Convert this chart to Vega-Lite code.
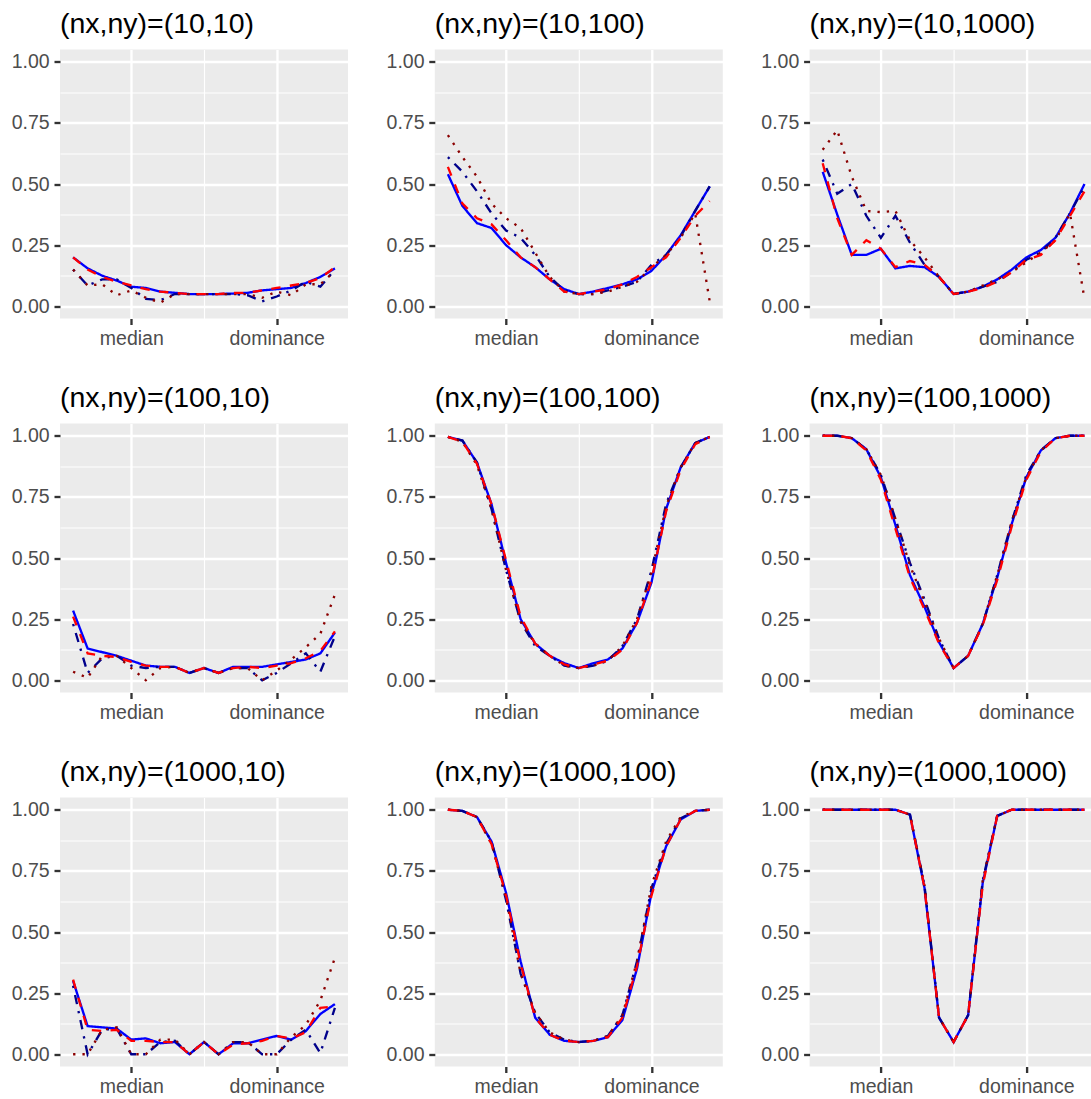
{
"$schema": "https://vega.github.io/schema/vega-lite/v6.json",
"padding": {"left": 11, "top": 9.5, "right": 0, "bottom": 0},
"datasets": {"d": [
{"p":"10,10","m":"a","x":-9,"y":0.2},{"p":"10,10","m":"a","x":-8,"y":0.155},{"p":"10,10","m":"a","x":-7,"y":0.125},{"p":"10,10","m":"a","x":-6,"y":0.105},{"p":"10,10","m":"a","x":-5,"y":0.08},{"p":"10,10","m":"a","x":-4,"y":0.075},{"p":"10,10","m":"a","x":-3,"y":0.06},{"p":"10,10","m":"a","x":-2,"y":0.055},{"p":"10,10","m":"a","x":-1,"y":0.05},{"p":"10,10","m":"a","x":0,"y":0.05},{"p":"10,10","m":"a","x":1,"y":0.05},{"p":"10,10","m":"a","x":2,"y":0.052},{"p":"10,10","m":"a","x":3,"y":0.055},{"p":"10,10","m":"a","x":4,"y":0.065},{"p":"10,10","m":"a","x":5,"y":0.07},{"p":"10,10","m":"a","x":6,"y":0.075},{"p":"10,10","m":"a","x":7,"y":0.095},{"p":"10,10","m":"a","x":8,"y":0.12},{"p":"10,10","m":"a","x":9,"y":0.155},
{"p":"10,10","m":"b","x":-9,"y":0.15},{"p":"10,10","m":"b","x":-8,"y":0.085},{"p":"10,10","m":"b","x":-7,"y":0.11},{"p":"10,10","m":"b","x":-6,"y":0.11},{"p":"10,10","m":"b","x":-5,"y":0.075},{"p":"10,10","m":"b","x":-4,"y":0.03},{"p":"10,10","m":"b","x":-3,"y":0.025},{"p":"10,10","m":"b","x":-2,"y":0.05},{"p":"10,10","m":"b","x":-1,"y":0.05},{"p":"10,10","m":"b","x":0,"y":0.05},{"p":"10,10","m":"b","x":1,"y":0.05},{"p":"10,10","m":"b","x":2,"y":0.05},{"p":"10,10","m":"b","x":3,"y":0.045},{"p":"10,10","m":"b","x":4,"y":0.02},{"p":"10,10","m":"b","x":5,"y":0.04},{"p":"10,10","m":"b","x":6,"y":0.065},{"p":"10,10","m":"b","x":7,"y":0.1},{"p":"10,10","m":"b","x":8,"y":0.08},{"p":"10,10","m":"b","x":9,"y":0.15},
{"p":"10,10","m":"c","x":-9,"y":0.15},{"p":"10,10","m":"c","x":-8,"y":0.085},{"p":"10,10","m":"c","x":-7,"y":0.09},{"p":"10,10","m":"c","x":-6,"y":0.045},{"p":"10,10","m":"c","x":-5,"y":0.065},{"p":"10,10","m":"c","x":-4,"y":0.035},{"p":"10,10","m":"c","x":-3,"y":0.015},{"p":"10,10","m":"c","x":-2,"y":0.05},{"p":"10,10","m":"c","x":-1,"y":0.05},{"p":"10,10","m":"c","x":0,"y":0.05},{"p":"10,10","m":"c","x":1,"y":0.05},{"p":"10,10","m":"c","x":2,"y":0.05},{"p":"10,10","m":"c","x":3,"y":0.05},{"p":"10,10","m":"c","x":4,"y":0.035},{"p":"10,10","m":"c","x":5,"y":0.06},{"p":"10,10","m":"c","x":6,"y":0.045},{"p":"10,10","m":"c","x":7,"y":0.09},{"p":"10,10","m":"c","x":8,"y":0.09},{"p":"10,10","m":"c","x":9,"y":0.145},
{"p":"10,10","m":"d","x":-9,"y":0.2},{"p":"10,10","m":"d","x":-8,"y":0.15},{"p":"10,10","m":"d","x":-7,"y":0.12},{"p":"10,10","m":"d","x":-6,"y":0.1},{"p":"10,10","m":"d","x":-5,"y":0.085},{"p":"10,10","m":"d","x":-4,"y":0.07},{"p":"10,10","m":"d","x":-3,"y":0.06},{"p":"10,10","m":"d","x":-2,"y":0.055},{"p":"10,10","m":"d","x":-1,"y":0.05},{"p":"10,10","m":"d","x":0,"y":0.05},{"p":"10,10","m":"d","x":1,"y":0.05},{"p":"10,10","m":"d","x":2,"y":0.055},{"p":"10,10","m":"d","x":3,"y":0.055},{"p":"10,10","m":"d","x":4,"y":0.065},{"p":"10,10","m":"d","x":5,"y":0.075},{"p":"10,10","m":"d","x":6,"y":0.085},{"p":"10,10","m":"d","x":7,"y":0.095},{"p":"10,10","m":"d","x":8,"y":0.115},{"p":"10,10","m":"d","x":9,"y":0.16},

{"p":"10,100","m":"a","x":-9,"y":0.54},{"p":"10,100","m":"a","x":-8,"y":0.41},{"p":"10,100","m":"a","x":-7,"y":0.34},{"p":"10,100","m":"a","x":-6,"y":0.32},{"p":"10,100","m":"a","x":-5,"y":0.25},{"p":"10,100","m":"a","x":-4,"y":0.2},{"p":"10,100","m":"a","x":-3,"y":0.16},{"p":"10,100","m":"a","x":-2,"y":0.11},{"p":"10,100","m":"a","x":-1,"y":0.07},{"p":"10,100","m":"a","x":0,"y":0.05},{"p":"10,100","m":"a","x":1,"y":0.06},{"p":"10,100","m":"a","x":2,"y":0.075},{"p":"10,100","m":"a","x":3,"y":0.09},{"p":"10,100","m":"a","x":4,"y":0.11},{"p":"10,100","m":"a","x":5,"y":0.145},{"p":"10,100","m":"a","x":6,"y":0.21},{"p":"10,100","m":"a","x":7,"y":0.29},{"p":"10,100","m":"a","x":8,"y":0.39},{"p":"10,100","m":"a","x":9,"y":0.49},
{"p":"10,100","m":"b","x":-9,"y":0.61},{"p":"10,100","m":"b","x":-8,"y":0.55},{"p":"10,100","m":"b","x":-7,"y":0.47},{"p":"10,100","m":"b","x":-6,"y":0.38},{"p":"10,100","m":"b","x":-5,"y":0.31},{"p":"10,100","m":"b","x":-4,"y":0.28},{"p":"10,100","m":"b","x":-3,"y":0.21},{"p":"10,100","m":"b","x":-2,"y":0.12},{"p":"10,100","m":"b","x":-1,"y":0.065},{"p":"10,100","m":"b","x":0,"y":0.05},{"p":"10,100","m":"b","x":1,"y":0.05},{"p":"10,100","m":"b","x":2,"y":0.065},{"p":"10,100","m":"b","x":3,"y":0.08},{"p":"10,100","m":"b","x":4,"y":0.1},{"p":"10,100","m":"b","x":5,"y":0.17},{"p":"10,100","m":"b","x":6,"y":0.21},{"p":"10,100","m":"b","x":7,"y":0.285},{"p":"10,100","m":"b","x":8,"y":0.39},{"p":"10,100","m":"b","x":9,"y":0.49},
{"p":"10,100","m":"c","x":-9,"y":0.7},{"p":"10,100","m":"c","x":-8,"y":0.61},{"p":"10,100","m":"c","x":-7,"y":0.53},{"p":"10,100","m":"c","x":-6,"y":0.42},{"p":"10,100","m":"c","x":-5,"y":0.36},{"p":"10,100","m":"c","x":-4,"y":0.32},{"p":"10,100","m":"c","x":-3,"y":0.22},{"p":"10,100","m":"c","x":-2,"y":0.12},{"p":"10,100","m":"c","x":-1,"y":0.06},{"p":"10,100","m":"c","x":0,"y":0.05},{"p":"10,100","m":"c","x":1,"y":0.05},{"p":"10,100","m":"c","x":2,"y":0.06},{"p":"10,100","m":"c","x":3,"y":0.08},{"p":"10,100","m":"c","x":4,"y":0.1},{"p":"10,100","m":"c","x":5,"y":0.16},{"p":"10,100","m":"c","x":6,"y":0.21},{"p":"10,100","m":"c","x":7,"y":0.28},{"p":"10,100","m":"c","x":8,"y":0.38},{"p":"10,100","m":"c","x":9,"y":0.02},
{"p":"10,100","m":"d","x":-9,"y":0.57},{"p":"10,100","m":"d","x":-8,"y":0.42},{"p":"10,100","m":"d","x":-7,"y":0.36},{"p":"10,100","m":"d","x":-6,"y":0.335},{"p":"10,100","m":"d","x":-5,"y":0.27},{"p":"10,100","m":"d","x":-4,"y":0.2},{"p":"10,100","m":"d","x":-3,"y":0.16},{"p":"10,100","m":"d","x":-2,"y":0.11},{"p":"10,100","m":"d","x":-1,"y":0.06},{"p":"10,100","m":"d","x":0,"y":0.05},{"p":"10,100","m":"d","x":1,"y":0.06},{"p":"10,100","m":"d","x":2,"y":0.07},{"p":"10,100","m":"d","x":3,"y":0.09},{"p":"10,100","m":"d","x":4,"y":0.12},{"p":"10,100","m":"d","x":5,"y":0.16},{"p":"10,100","m":"d","x":6,"y":0.2},{"p":"10,100","m":"d","x":7,"y":0.28},{"p":"10,100","m":"d","x":8,"y":0.37},{"p":"10,100","m":"d","x":9,"y":0.43},

{"p":"10,1000","m":"a","x":-9,"y":0.55},{"p":"10,1000","m":"a","x":-8,"y":0.375},{"p":"10,1000","m":"a","x":-7,"y":0.21},{"p":"10,1000","m":"a","x":-6,"y":0.21},{"p":"10,1000","m":"a","x":-5,"y":0.235},{"p":"10,1000","m":"a","x":-4,"y":0.155},{"p":"10,1000","m":"a","x":-3,"y":0.165},{"p":"10,1000","m":"a","x":-2,"y":0.16},{"p":"10,1000","m":"a","x":-1,"y":0.12},{"p":"10,1000","m":"a","x":0,"y":0.05},{"p":"10,1000","m":"a","x":1,"y":0.06},{"p":"10,1000","m":"a","x":2,"y":0.08},{"p":"10,1000","m":"a","x":3,"y":0.11},{"p":"10,1000","m":"a","x":4,"y":0.15},{"p":"10,1000","m":"a","x":5,"y":0.2},{"p":"10,1000","m":"a","x":6,"y":0.23},{"p":"10,1000","m":"a","x":7,"y":0.28},{"p":"10,1000","m":"a","x":8,"y":0.38},{"p":"10,1000","m":"a","x":9,"y":0.5},
{"p":"10,1000","m":"b","x":-9,"y":0.6},{"p":"10,1000","m":"b","x":-8,"y":0.46},{"p":"10,1000","m":"b","x":-7,"y":0.5},{"p":"10,1000","m":"b","x":-6,"y":0.37},{"p":"10,1000","m":"b","x":-5,"y":0.28},{"p":"10,1000","m":"b","x":-4,"y":0.37},{"p":"10,1000","m":"b","x":-3,"y":0.26},{"p":"10,1000","m":"b","x":-2,"y":0.17},{"p":"10,1000","m":"b","x":-1,"y":0.12},{"p":"10,1000","m":"b","x":0,"y":0.05},{"p":"10,1000","m":"b","x":1,"y":0.06},{"p":"10,1000","m":"b","x":2,"y":0.08},{"p":"10,1000","m":"b","x":3,"y":0.1},{"p":"10,1000","m":"b","x":4,"y":0.14},{"p":"10,1000","m":"b","x":5,"y":0.19},{"p":"10,1000","m":"b","x":6,"y":0.22},{"p":"10,1000","m":"b","x":7,"y":0.28},{"p":"10,1000","m":"b","x":8,"y":0.38},{"p":"10,1000","m":"b","x":9,"y":0.49},
{"p":"10,1000","m":"c","x":-9,"y":0.64},{"p":"10,1000","m":"c","x":-8,"y":0.72},{"p":"10,1000","m":"c","x":-7,"y":0.53},{"p":"10,1000","m":"c","x":-6,"y":0.39},{"p":"10,1000","m":"c","x":-5,"y":0.385},{"p":"10,1000","m":"c","x":-4,"y":0.39},{"p":"10,1000","m":"c","x":-3,"y":0.27},{"p":"10,1000","m":"c","x":-2,"y":0.2},{"p":"10,1000","m":"c","x":-1,"y":0.12},{"p":"10,1000","m":"c","x":0,"y":0.05},{"p":"10,1000","m":"c","x":1,"y":0.06},{"p":"10,1000","m":"c","x":2,"y":0.085},{"p":"10,1000","m":"c","x":3,"y":0.11},{"p":"10,1000","m":"c","x":4,"y":0.14},{"p":"10,1000","m":"c","x":5,"y":0.18},{"p":"10,1000","m":"c","x":6,"y":0.22},{"p":"10,1000","m":"c","x":7,"y":0.27},{"p":"10,1000","m":"c","x":8,"y":0.38},{"p":"10,1000","m":"c","x":9,"y":0.03},
{"p":"10,1000","m":"d","x":-9,"y":0.585},{"p":"10,1000","m":"d","x":-8,"y":0.36},{"p":"10,1000","m":"d","x":-7,"y":0.21},{"p":"10,1000","m":"d","x":-6,"y":0.27},{"p":"10,1000","m":"d","x":-5,"y":0.235},{"p":"10,1000","m":"d","x":-4,"y":0.16},{"p":"10,1000","m":"d","x":-3,"y":0.185},{"p":"10,1000","m":"d","x":-2,"y":0.17},{"p":"10,1000","m":"d","x":-1,"y":0.12},{"p":"10,1000","m":"d","x":0,"y":0.05},{"p":"10,1000","m":"d","x":1,"y":0.06},{"p":"10,1000","m":"d","x":2,"y":0.075},{"p":"10,1000","m":"d","x":3,"y":0.1},{"p":"10,1000","m":"d","x":4,"y":0.14},{"p":"10,1000","m":"d","x":5,"y":0.19},{"p":"10,1000","m":"d","x":6,"y":0.21},{"p":"10,1000","m":"d","x":7,"y":0.27},{"p":"10,1000","m":"d","x":8,"y":0.37},{"p":"10,1000","m":"d","x":9,"y":0.47},

{"p":"100,10","m":"a","x":-9,"y":0.285},{"p":"100,10","m":"a","x":-8,"y":0.13},{"p":"100,10","m":"a","x":-7,"y":0.115},{"p":"100,10","m":"a","x":-6,"y":0.1},{"p":"100,10","m":"a","x":-5,"y":0.08},{"p":"100,10","m":"a","x":-4,"y":0.06},{"p":"100,10","m":"a","x":-3,"y":0.055},{"p":"100,10","m":"a","x":-2,"y":0.055},{"p":"100,10","m":"a","x":-1,"y":0.03},{"p":"100,10","m":"a","x":0,"y":0.05},{"p":"100,10","m":"a","x":1,"y":0.03},{"p":"100,10","m":"a","x":2,"y":0.055},{"p":"100,10","m":"a","x":3,"y":0.055},{"p":"100,10","m":"a","x":4,"y":0.055},{"p":"100,10","m":"a","x":5,"y":0.065},{"p":"100,10","m":"a","x":6,"y":0.075},{"p":"100,10","m":"a","x":7,"y":0.085},{"p":"100,10","m":"a","x":8,"y":0.11},{"p":"100,10","m":"a","x":9,"y":0.195},
{"p":"100,10","m":"b","x":-9,"y":0.23},{"p":"100,10","m":"b","x":-8,"y":0.03},{"p":"100,10","m":"b","x":-7,"y":0.09},{"p":"100,10","m":"b","x":-6,"y":0.1},{"p":"100,10","m":"b","x":-5,"y":0.06},{"p":"100,10","m":"b","x":-4,"y":0.05},{"p":"100,10","m":"b","x":-3,"y":0.055},{"p":"100,10","m":"b","x":-2,"y":0.055},{"p":"100,10","m":"b","x":-1,"y":0.03},{"p":"100,10","m":"b","x":0,"y":0.05},{"p":"100,10","m":"b","x":1,"y":0.03},{"p":"100,10","m":"b","x":2,"y":0.05},{"p":"100,10","m":"b","x":3,"y":0.05},{"p":"100,10","m":"b","x":4,"y":0.0},{"p":"100,10","m":"b","x":5,"y":0.03},{"p":"100,10","m":"b","x":6,"y":0.07},{"p":"100,10","m":"b","x":7,"y":0.11},{"p":"100,10","m":"b","x":8,"y":0.035},{"p":"100,10","m":"b","x":9,"y":0.18},
{"p":"100,10","m":"c","x":-9,"y":0.035},{"p":"100,10","m":"c","x":-8,"y":0.01},{"p":"100,10","m":"c","x":-7,"y":0.1},{"p":"100,10","m":"c","x":-6,"y":0.1},{"p":"100,10","m":"c","x":-5,"y":0.05},{"p":"100,10","m":"c","x":-4,"y":0.0},{"p":"100,10","m":"c","x":-3,"y":0.05},{"p":"100,10","m":"c","x":-2,"y":0.055},{"p":"100,10","m":"c","x":-1,"y":0.03},{"p":"100,10","m":"c","x":0,"y":0.05},{"p":"100,10","m":"c","x":1,"y":0.03},{"p":"100,10","m":"c","x":2,"y":0.05},{"p":"100,10","m":"c","x":3,"y":0.05},{"p":"100,10","m":"c","x":4,"y":0.0},{"p":"100,10","m":"c","x":5,"y":0.04},{"p":"100,10","m":"c","x":6,"y":0.085},{"p":"100,10","m":"c","x":7,"y":0.135},{"p":"100,10","m":"c","x":8,"y":0.19},{"p":"100,10","m":"c","x":9,"y":0.35},
{"p":"100,10","m":"d","x":-9,"y":0.26},{"p":"100,10","m":"d","x":-8,"y":0.11},{"p":"100,10","m":"d","x":-7,"y":0.1},{"p":"100,10","m":"d","x":-6,"y":0.095},{"p":"100,10","m":"d","x":-5,"y":0.075},{"p":"100,10","m":"d","x":-4,"y":0.06},{"p":"100,10","m":"d","x":-3,"y":0.055},{"p":"100,10","m":"d","x":-2,"y":0.055},{"p":"100,10","m":"d","x":-1,"y":0.03},{"p":"100,10","m":"d","x":0,"y":0.05},{"p":"100,10","m":"d","x":1,"y":0.03},{"p":"100,10","m":"d","x":2,"y":0.05},{"p":"100,10","m":"d","x":3,"y":0.055},{"p":"100,10","m":"d","x":4,"y":0.05},{"p":"100,10","m":"d","x":5,"y":0.06},{"p":"100,10","m":"d","x":6,"y":0.07},{"p":"100,10","m":"d","x":7,"y":0.09},{"p":"100,10","m":"d","x":8,"y":0.12},{"p":"100,10","m":"d","x":9,"y":0.2},

{"p":"100,100","m":"a","x":-9,"y":0.995},{"p":"100,100","m":"a","x":-8,"y":0.98},{"p":"100,100","m":"a","x":-7,"y":0.89},{"p":"100,100","m":"a","x":-6,"y":0.72},{"p":"100,100","m":"a","x":-5,"y":0.48},{"p":"100,100","m":"a","x":-4,"y":0.25},{"p":"100,100","m":"a","x":-3,"y":0.15},{"p":"100,100","m":"a","x":-2,"y":0.1},{"p":"100,100","m":"a","x":-1,"y":0.07},{"p":"100,100","m":"a","x":0,"y":0.05},{"p":"100,100","m":"a","x":1,"y":0.07},{"p":"100,100","m":"a","x":2,"y":0.085},{"p":"100,100","m":"a","x":3,"y":0.13},{"p":"100,100","m":"a","x":4,"y":0.235},{"p":"100,100","m":"a","x":5,"y":0.4},{"p":"100,100","m":"a","x":6,"y":0.7},{"p":"100,100","m":"a","x":7,"y":0.87},{"p":"100,100","m":"a","x":8,"y":0.97},{"p":"100,100","m":"a","x":9,"y":0.995},
{"p":"100,100","m":"b","x":-9,"y":0.995},{"p":"100,100","m":"b","x":-8,"y":0.98},{"p":"100,100","m":"b","x":-7,"y":0.89},{"p":"100,100","m":"b","x":-6,"y":0.7},{"p":"100,100","m":"b","x":-5,"y":0.45},{"p":"100,100","m":"b","x":-4,"y":0.24},{"p":"100,100","m":"b","x":-3,"y":0.14},{"p":"100,100","m":"b","x":-2,"y":0.1},{"p":"100,100","m":"b","x":-1,"y":0.06},{"p":"100,100","m":"b","x":0,"y":0.05},{"p":"100,100","m":"b","x":1,"y":0.06},{"p":"100,100","m":"b","x":2,"y":0.08},{"p":"100,100","m":"b","x":3,"y":0.14},{"p":"100,100","m":"b","x":4,"y":0.25},{"p":"100,100","m":"b","x":5,"y":0.45},{"p":"100,100","m":"b","x":6,"y":0.72},{"p":"100,100","m":"b","x":7,"y":0.87},{"p":"100,100","m":"b","x":8,"y":0.97},{"p":"100,100","m":"b","x":9,"y":0.995},
{"p":"100,100","m":"c","x":-9,"y":0.995},{"p":"100,100","m":"c","x":-8,"y":0.975},{"p":"100,100","m":"c","x":-7,"y":0.88},{"p":"100,100","m":"c","x":-6,"y":0.7},{"p":"100,100","m":"c","x":-5,"y":0.45},{"p":"100,100","m":"c","x":-4,"y":0.24},{"p":"100,100","m":"c","x":-3,"y":0.15},{"p":"100,100","m":"c","x":-2,"y":0.1},{"p":"100,100","m":"c","x":-1,"y":0.06},{"p":"100,100","m":"c","x":0,"y":0.05},{"p":"100,100","m":"c","x":1,"y":0.06},{"p":"100,100","m":"c","x":2,"y":0.08},{"p":"100,100","m":"c","x":3,"y":0.14},{"p":"100,100","m":"c","x":4,"y":0.25},{"p":"100,100","m":"c","x":5,"y":0.44},{"p":"100,100","m":"c","x":6,"y":0.71},{"p":"100,100","m":"c","x":7,"y":0.87},{"p":"100,100","m":"c","x":8,"y":0.97},{"p":"100,100","m":"c","x":9,"y":0.995},
{"p":"100,100","m":"d","x":-9,"y":0.995},{"p":"100,100","m":"d","x":-8,"y":0.975},{"p":"100,100","m":"d","x":-7,"y":0.885},{"p":"100,100","m":"d","x":-6,"y":0.72},{"p":"100,100","m":"d","x":-5,"y":0.49},{"p":"100,100","m":"d","x":-4,"y":0.26},{"p":"100,100","m":"d","x":-3,"y":0.15},{"p":"100,100","m":"d","x":-2,"y":0.1},{"p":"100,100","m":"d","x":-1,"y":0.065},{"p":"100,100","m":"d","x":0,"y":0.05},{"p":"100,100","m":"d","x":1,"y":0.065},{"p":"100,100","m":"d","x":2,"y":0.08},{"p":"100,100","m":"d","x":3,"y":0.125},{"p":"100,100","m":"d","x":4,"y":0.235},{"p":"100,100","m":"d","x":5,"y":0.41},{"p":"100,100","m":"d","x":6,"y":0.69},{"p":"100,100","m":"d","x":7,"y":0.86},{"p":"100,100","m":"d","x":8,"y":0.965},{"p":"100,100","m":"d","x":9,"y":0.995},

{"p":"100,1000","m":"a","x":-9,"y":1},{"p":"100,1000","m":"a","x":-8,"y":1},{"p":"100,1000","m":"a","x":-7,"y":0.99},{"p":"100,1000","m":"a","x":-6,"y":0.945},{"p":"100,1000","m":"a","x":-5,"y":0.83},{"p":"100,1000","m":"a","x":-4,"y":0.635},{"p":"100,1000","m":"a","x":-3,"y":0.43},{"p":"100,1000","m":"a","x":-2,"y":0.3},{"p":"100,1000","m":"a","x":-1,"y":0.155},{"p":"100,1000","m":"a","x":0,"y":0.05},{"p":"100,1000","m":"a","x":1,"y":0.1},{"p":"100,1000","m":"a","x":2,"y":0.23},{"p":"100,1000","m":"a","x":3,"y":0.42},{"p":"100,1000","m":"a","x":4,"y":0.64},{"p":"100,1000","m":"a","x":5,"y":0.83},{"p":"100,1000","m":"a","x":6,"y":0.94},{"p":"100,1000","m":"a","x":7,"y":0.99},{"p":"100,1000","m":"a","x":8,"y":1},{"p":"100,1000","m":"a","x":9,"y":1},
{"p":"100,1000","m":"b","x":-9,"y":1},{"p":"100,1000","m":"b","x":-8,"y":1},{"p":"100,1000","m":"b","x":-7,"y":0.99},{"p":"100,1000","m":"b","x":-6,"y":0.945},{"p":"100,1000","m":"b","x":-5,"y":0.84},{"p":"100,1000","m":"b","x":-4,"y":0.66},{"p":"100,1000","m":"b","x":-3,"y":0.48},{"p":"100,1000","m":"b","x":-2,"y":0.33},{"p":"100,1000","m":"b","x":-1,"y":0.17},{"p":"100,1000","m":"b","x":0,"y":0.05},{"p":"100,1000","m":"b","x":1,"y":0.1},{"p":"100,1000","m":"b","x":2,"y":0.23},{"p":"100,1000","m":"b","x":3,"y":0.43},{"p":"100,1000","m":"b","x":4,"y":0.65},{"p":"100,1000","m":"b","x":5,"y":0.84},{"p":"100,1000","m":"b","x":6,"y":0.94},{"p":"100,1000","m":"b","x":7,"y":0.99},{"p":"100,1000","m":"b","x":8,"y":1},{"p":"100,1000","m":"b","x":9,"y":1},
{"p":"100,1000","m":"c","x":-9,"y":1},{"p":"100,1000","m":"c","x":-8,"y":1},{"p":"100,1000","m":"c","x":-7,"y":0.99},{"p":"100,1000","m":"c","x":-6,"y":0.945},{"p":"100,1000","m":"c","x":-5,"y":0.84},{"p":"100,1000","m":"c","x":-4,"y":0.66},{"p":"100,1000","m":"c","x":-3,"y":0.47},{"p":"100,1000","m":"c","x":-2,"y":0.32},{"p":"100,1000","m":"c","x":-1,"y":0.17},{"p":"100,1000","m":"c","x":0,"y":0.05},{"p":"100,1000","m":"c","x":1,"y":0.1},{"p":"100,1000","m":"c","x":2,"y":0.23},{"p":"100,1000","m":"c","x":3,"y":0.43},{"p":"100,1000","m":"c","x":4,"y":0.65},{"p":"100,1000","m":"c","x":5,"y":0.83},{"p":"100,1000","m":"c","x":6,"y":0.94},{"p":"100,1000","m":"c","x":7,"y":0.99},{"p":"100,1000","m":"c","x":8,"y":1},{"p":"100,1000","m":"c","x":9,"y":1},
{"p":"100,1000","m":"d","x":-9,"y":1},{"p":"100,1000","m":"d","x":-8,"y":1},{"p":"100,1000","m":"d","x":-7,"y":0.99},{"p":"100,1000","m":"d","x":-6,"y":0.94},{"p":"100,1000","m":"d","x":-5,"y":0.82},{"p":"100,1000","m":"d","x":-4,"y":0.62},{"p":"100,1000","m":"d","x":-3,"y":0.42},{"p":"100,1000","m":"d","x":-2,"y":0.29},{"p":"100,1000","m":"d","x":-1,"y":0.15},{"p":"100,1000","m":"d","x":0,"y":0.05},{"p":"100,1000","m":"d","x":1,"y":0.1},{"p":"100,1000","m":"d","x":2,"y":0.225},{"p":"100,1000","m":"d","x":3,"y":0.41},{"p":"100,1000","m":"d","x":4,"y":0.63},{"p":"100,1000","m":"d","x":5,"y":0.82},{"p":"100,1000","m":"d","x":6,"y":0.935},{"p":"100,1000","m":"d","x":7,"y":0.99},{"p":"100,1000","m":"d","x":8,"y":1},{"p":"100,1000","m":"d","x":9,"y":1},

{"p":"1000,10","m":"a","x":-9,"y":0.3},{"p":"1000,10","m":"a","x":-8,"y":0.115},{"p":"1000,10","m":"a","x":-7,"y":0.11},{"p":"1000,10","m":"a","x":-6,"y":0.105},{"p":"1000,10","m":"a","x":-5,"y":0.06},{"p":"1000,10","m":"a","x":-4,"y":0.065},{"p":"1000,10","m":"a","x":-3,"y":0.045},{"p":"1000,10","m":"a","x":-2,"y":0.05},{"p":"1000,10","m":"a","x":-1,"y":0.0},{"p":"1000,10","m":"a","x":0,"y":0.05},{"p":"1000,10","m":"a","x":1,"y":0.0},{"p":"1000,10","m":"a","x":2,"y":0.045},{"p":"1000,10","m":"a","x":3,"y":0.045},{"p":"1000,10","m":"a","x":4,"y":0.06},{"p":"1000,10","m":"a","x":5,"y":0.075},{"p":"1000,10","m":"a","x":6,"y":0.06},{"p":"1000,10","m":"a","x":7,"y":0.095},{"p":"1000,10","m":"a","x":8,"y":0.165},{"p":"1000,10","m":"a","x":9,"y":0.205},
{"p":"1000,10","m":"b","x":-9,"y":0.28},{"p":"1000,10","m":"b","x":-8,"y":0.0},{"p":"1000,10","m":"b","x":-7,"y":0.1},{"p":"1000,10","m":"b","x":-6,"y":0.105},{"p":"1000,10","m":"b","x":-5,"y":0.0},{"p":"1000,10","m":"b","x":-4,"y":0.0},{"p":"1000,10","m":"b","x":-3,"y":0.05},{"p":"1000,10","m":"b","x":-2,"y":0.055},{"p":"1000,10","m":"b","x":-1,"y":0.0},{"p":"1000,10","m":"b","x":0,"y":0.05},{"p":"1000,10","m":"b","x":1,"y":0.0},{"p":"1000,10","m":"b","x":2,"y":0.05},{"p":"1000,10","m":"b","x":3,"y":0.05},{"p":"1000,10","m":"b","x":4,"y":0.0},{"p":"1000,10","m":"b","x":5,"y":0.0},{"p":"1000,10","m":"b","x":6,"y":0.06},{"p":"1000,10","m":"b","x":7,"y":0.1},{"p":"1000,10","m":"b","x":8,"y":0.005},{"p":"1000,10","m":"b","x":9,"y":0.19},
{"p":"1000,10","m":"c","x":-9,"y":0.0},{"p":"1000,10","m":"c","x":-8,"y":0.0},{"p":"1000,10","m":"c","x":-7,"y":0.1},{"p":"1000,10","m":"c","x":-6,"y":0.11},{"p":"1000,10","m":"c","x":-5,"y":0.0},{"p":"1000,10","m":"c","x":-4,"y":0.0},{"p":"1000,10","m":"c","x":-3,"y":0.06},{"p":"1000,10","m":"c","x":-2,"y":0.06},{"p":"1000,10","m":"c","x":-1,"y":0.0},{"p":"1000,10","m":"c","x":0,"y":0.05},{"p":"1000,10","m":"c","x":1,"y":0.0},{"p":"1000,10","m":"c","x":2,"y":0.05},{"p":"1000,10","m":"c","x":3,"y":0.05},{"p":"1000,10","m":"c","x":4,"y":0.0},{"p":"1000,10","m":"c","x":5,"y":0.0},{"p":"1000,10","m":"c","x":6,"y":0.07},{"p":"1000,10","m":"c","x":7,"y":0.12},{"p":"1000,10","m":"c","x":8,"y":0.22},{"p":"1000,10","m":"c","x":9,"y":0.395},
{"p":"1000,10","m":"d","x":-9,"y":0.305},{"p":"1000,10","m":"d","x":-8,"y":0.1},{"p":"1000,10","m":"d","x":-7,"y":0.095},{"p":"1000,10","m":"d","x":-6,"y":0.1},{"p":"1000,10","m":"d","x":-5,"y":0.055},{"p":"1000,10","m":"d","x":-4,"y":0.055},{"p":"1000,10","m":"d","x":-3,"y":0.05},{"p":"1000,10","m":"d","x":-2,"y":0.05},{"p":"1000,10","m":"d","x":-1,"y":0.0},{"p":"1000,10","m":"d","x":0,"y":0.05},{"p":"1000,10","m":"d","x":1,"y":0.0},{"p":"1000,10","m":"d","x":2,"y":0.04},{"p":"1000,10","m":"d","x":3,"y":0.045},{"p":"1000,10","m":"d","x":4,"y":0.055},{"p":"1000,10","m":"d","x":5,"y":0.075},{"p":"1000,10","m":"d","x":6,"y":0.065},{"p":"1000,10","m":"d","x":7,"y":0.09},{"p":"1000,10","m":"d","x":8,"y":0.19},{"p":"1000,10","m":"d","x":9,"y":0.195},

{"p":"1000,100","m":"a","x":-9,"y":1},{"p":"1000,100","m":"a","x":-8,"y":0.995},{"p":"1000,100","m":"a","x":-7,"y":0.97},{"p":"1000,100","m":"a","x":-6,"y":0.87},{"p":"1000,100","m":"a","x":-5,"y":0.66},{"p":"1000,100","m":"a","x":-4,"y":0.38},{"p":"1000,100","m":"a","x":-3,"y":0.15},{"p":"1000,100","m":"a","x":-2,"y":0.08},{"p":"1000,100","m":"a","x":-1,"y":0.055},{"p":"1000,100","m":"a","x":0,"y":0.05},{"p":"1000,100","m":"a","x":1,"y":0.055},{"p":"1000,100","m":"a","x":2,"y":0.07},{"p":"1000,100","m":"a","x":3,"y":0.14},{"p":"1000,100","m":"a","x":4,"y":0.35},{"p":"1000,100","m":"a","x":5,"y":0.66},{"p":"1000,100","m":"a","x":6,"y":0.85},{"p":"1000,100","m":"a","x":7,"y":0.96},{"p":"1000,100","m":"a","x":8,"y":0.995},{"p":"1000,100","m":"a","x":9,"y":1},
{"p":"1000,100","m":"b","x":-9,"y":1},{"p":"1000,100","m":"b","x":-8,"y":0.995},{"p":"1000,100","m":"b","x":-7,"y":0.97},{"p":"1000,100","m":"b","x":-6,"y":0.87},{"p":"1000,100","m":"b","x":-5,"y":0.63},{"p":"1000,100","m":"b","x":-4,"y":0.33},{"p":"1000,100","m":"b","x":-3,"y":0.17},{"p":"1000,100","m":"b","x":-2,"y":0.09},{"p":"1000,100","m":"b","x":-1,"y":0.06},{"p":"1000,100","m":"b","x":0,"y":0.05},{"p":"1000,100","m":"b","x":1,"y":0.055},{"p":"1000,100","m":"b","x":2,"y":0.075},{"p":"1000,100","m":"b","x":3,"y":0.16},{"p":"1000,100","m":"b","x":4,"y":0.38},{"p":"1000,100","m":"b","x":5,"y":0.68},{"p":"1000,100","m":"b","x":6,"y":0.86},{"p":"1000,100","m":"b","x":7,"y":0.965},{"p":"1000,100","m":"b","x":8,"y":0.995},{"p":"1000,100","m":"b","x":9,"y":1},
{"p":"1000,100","m":"c","x":-9,"y":1},{"p":"1000,100","m":"c","x":-8,"y":0.995},{"p":"1000,100","m":"c","x":-7,"y":0.97},{"p":"1000,100","m":"c","x":-6,"y":0.86},{"p":"1000,100","m":"c","x":-5,"y":0.64},{"p":"1000,100","m":"c","x":-4,"y":0.33},{"p":"1000,100","m":"c","x":-3,"y":0.17},{"p":"1000,100","m":"c","x":-2,"y":0.09},{"p":"1000,100","m":"c","x":-1,"y":0.06},{"p":"1000,100","m":"c","x":0,"y":0.05},{"p":"1000,100","m":"c","x":1,"y":0.055},{"p":"1000,100","m":"c","x":2,"y":0.075},{"p":"1000,100","m":"c","x":3,"y":0.16},{"p":"1000,100","m":"c","x":4,"y":0.38},{"p":"1000,100","m":"c","x":5,"y":0.69},{"p":"1000,100","m":"c","x":6,"y":0.87},{"p":"1000,100","m":"c","x":7,"y":0.97},{"p":"1000,100","m":"c","x":8,"y":0.995},{"p":"1000,100","m":"c","x":9,"y":1},
{"p":"1000,100","m":"d","x":-9,"y":1},{"p":"1000,100","m":"d","x":-8,"y":0.995},{"p":"1000,100","m":"d","x":-7,"y":0.97},{"p":"1000,100","m":"d","x":-6,"y":0.86},{"p":"1000,100","m":"d","x":-5,"y":0.65},{"p":"1000,100","m":"d","x":-4,"y":0.37},{"p":"1000,100","m":"d","x":-3,"y":0.15},{"p":"1000,100","m":"d","x":-2,"y":0.08},{"p":"1000,100","m":"d","x":-1,"y":0.055},{"p":"1000,100","m":"d","x":0,"y":0.05},{"p":"1000,100","m":"d","x":1,"y":0.055},{"p":"1000,100","m":"d","x":2,"y":0.07},{"p":"1000,100","m":"d","x":3,"y":0.15},{"p":"1000,100","m":"d","x":4,"y":0.36},{"p":"1000,100","m":"d","x":5,"y":0.65},{"p":"1000,100","m":"d","x":6,"y":0.85},{"p":"1000,100","m":"d","x":7,"y":0.96},{"p":"1000,100","m":"d","x":8,"y":0.995},{"p":"1000,100","m":"d","x":9,"y":1},

{"p":"1000,1000","m":"a","x":-9,"y":1},{"p":"1000,1000","m":"a","x":-8,"y":1},{"p":"1000,1000","m":"a","x":-7,"y":1},{"p":"1000,1000","m":"a","x":-6,"y":1},{"p":"1000,1000","m":"a","x":-5,"y":1},{"p":"1000,1000","m":"a","x":-4,"y":1},{"p":"1000,1000","m":"a","x":-3,"y":0.98},{"p":"1000,1000","m":"a","x":-2,"y":0.68},{"p":"1000,1000","m":"a","x":-1,"y":0.15},{"p":"1000,1000","m":"a","x":0,"y":0.05},{"p":"1000,1000","m":"a","x":1,"y":0.16},{"p":"1000,1000","m":"a","x":2,"y":0.7},{"p":"1000,1000","m":"a","x":3,"y":0.975},{"p":"1000,1000","m":"a","x":4,"y":1},{"p":"1000,1000","m":"a","x":5,"y":1},{"p":"1000,1000","m":"a","x":6,"y":1},{"p":"1000,1000","m":"a","x":7,"y":1},{"p":"1000,1000","m":"a","x":8,"y":1},{"p":"1000,1000","m":"a","x":9,"y":1},
{"p":"1000,1000","m":"b","x":-9,"y":1},{"p":"1000,1000","m":"b","x":-8,"y":1},{"p":"1000,1000","m":"b","x":-7,"y":1},{"p":"1000,1000","m":"b","x":-6,"y":1},{"p":"1000,1000","m":"b","x":-5,"y":1},{"p":"1000,1000","m":"b","x":-4,"y":1},{"p":"1000,1000","m":"b","x":-3,"y":0.98},{"p":"1000,1000","m":"b","x":-2,"y":0.69},{"p":"1000,1000","m":"b","x":-1,"y":0.15},{"p":"1000,1000","m":"b","x":0,"y":0.05},{"p":"1000,1000","m":"b","x":1,"y":0.16},{"p":"1000,1000","m":"b","x":2,"y":0.71},{"p":"1000,1000","m":"b","x":3,"y":0.975},{"p":"1000,1000","m":"b","x":4,"y":1},{"p":"1000,1000","m":"b","x":5,"y":1},{"p":"1000,1000","m":"b","x":6,"y":1},{"p":"1000,1000","m":"b","x":7,"y":1},{"p":"1000,1000","m":"b","x":8,"y":1},{"p":"1000,1000","m":"b","x":9,"y":1},
{"p":"1000,1000","m":"c","x":-9,"y":1},{"p":"1000,1000","m":"c","x":-8,"y":1},{"p":"1000,1000","m":"c","x":-7,"y":1},{"p":"1000,1000","m":"c","x":-6,"y":1},{"p":"1000,1000","m":"c","x":-5,"y":1},{"p":"1000,1000","m":"c","x":-4,"y":1},{"p":"1000,1000","m":"c","x":-3,"y":0.98},{"p":"1000,1000","m":"c","x":-2,"y":0.69},{"p":"1000,1000","m":"c","x":-1,"y":0.15},{"p":"1000,1000","m":"c","x":0,"y":0.05},{"p":"1000,1000","m":"c","x":1,"y":0.16},{"p":"1000,1000","m":"c","x":2,"y":0.71},{"p":"1000,1000","m":"c","x":3,"y":0.975},{"p":"1000,1000","m":"c","x":4,"y":1},{"p":"1000,1000","m":"c","x":5,"y":1},{"p":"1000,1000","m":"c","x":6,"y":1},{"p":"1000,1000","m":"c","x":7,"y":1},{"p":"1000,1000","m":"c","x":8,"y":1},{"p":"1000,1000","m":"c","x":9,"y":1},
{"p":"1000,1000","m":"d","x":-9,"y":1},{"p":"1000,1000","m":"d","x":-8,"y":1},{"p":"1000,1000","m":"d","x":-7,"y":1},{"p":"1000,1000","m":"d","x":-6,"y":1},{"p":"1000,1000","m":"d","x":-5,"y":1},{"p":"1000,1000","m":"d","x":-4,"y":1},{"p":"1000,1000","m":"d","x":-3,"y":0.98},{"p":"1000,1000","m":"d","x":-2,"y":0.68},{"p":"1000,1000","m":"d","x":-1,"y":0.15},{"p":"1000,1000","m":"d","x":0,"y":0.05},{"p":"1000,1000","m":"d","x":1,"y":0.16},{"p":"1000,1000","m":"d","x":2,"y":0.69},{"p":"1000,1000","m":"d","x":3,"y":0.975},{"p":"1000,1000","m":"d","x":4,"y":1},{"p":"1000,1000","m":"d","x":5,"y":1},{"p":"1000,1000","m":"d","x":6,"y":1},{"p":"1000,1000","m":"d","x":7,"y":1},{"p":"1000,1000","m":"d","x":8,"y":1},{"p":"1000,1000","m":"d","x":9,"y":1}
]},
"data": {"name": "d"},
"facet": {
  "field": "p", "type": "nominal",
  "sort": ["10,10","10,100","10,1000","100,10","100,100","100,1000","1000,10","1000,100","1000,1000"],
  "title": null,
  "header": {
    "labelExpr": "'(nx,ny)=(' + datum.value + ')'",
    "labelFont": "Liberation Sans", "labelFontSize": 28.5, "labelColor": "#000000",
    "labelAnchor": "start", "labelAlign": "left", "labelOrient": "top",
    "labelBaseline": "alphabetic", "labelPadding": -12
  }
},
"columns": 3,
"spacing": {"row": 35, "column": 37.8},
"resolve": {"axis": {"x": "independent", "y": "independent"}},
"spec": {
  "width": 288, "height": 269,
  "mark": {"type": "line", "strokeWidth": 2.34, "strokeCap": "butt", "clip": true},
  "encoding": {
    "x": {"field": "x", "type": "quantitative",
      "scale": {"domain": [-9.9, 9.9], "nice": false, "zero": false},
      "axis": {"values": [-5, 0, 5], "title": null,
        "labelExpr": "datum.value == -5 ? 'median' : (datum.value == 5 ? 'dominance' : '')",
        "tickOpacity": {"condition": {"test": "datum.value == 0", "value": 0}, "value": 1},
        "gridWidth": {"condition": {"test": "datum.value == 0", "value": 1.17}, "value": 2.34}}},
    "y": {"field": "y", "type": "quantitative",
      "scale": {"domain": [-0.05, 1.05], "nice": false, "zero": false},
      "axis": {"values": [0, 0.125, 0.25, 0.375, 0.5, 0.625, 0.75, 0.875, 1], "title": null,
        "labelExpr": "(datum.value * 8) % 2 == 0 ? format(datum.value, '.2f') : ''",
        "tickOpacity": {"condition": {"test": "(datum.value * 8) % 2 == 1", "value": 0}, "value": 1},
        "gridWidth": {"condition": {"test": "(datum.value * 8) % 2 == 1", "value": 1.17}, "value": 2.34}}},
    "color": {"field": "m", "type": "nominal", "legend": null,
      "scale": {"domain": ["a","b","c","d"], "range": ["#0000FF","#00008B","#8B0000","#FF0000"]}},
    "strokeDash": {"field": "m", "type": "nominal", "legend": null,
      "scale": {"domain": ["a","b","c","d"], "range": [[1,0],[2.34,7,9.4,7],[2.34,7],[9.4,9.4]]}}
  }
},
"config": {
  "view": {"fill": "#EBEBEB", "stroke": null},
  "axis": {
    "domain": false, "grid": true, "gridColor": "#FFFFFF",
    "tickColor": "#333333", "tickSize": 6, "tickWidth": 2.34,
    "labelColor": "#4D4D4D", "labelFont": "Liberation Sans", "labelFontSize": 19.5,
    "labelPadding": 4.8, "labelOverlap": false, "labelFlush": false
  }
}
}
